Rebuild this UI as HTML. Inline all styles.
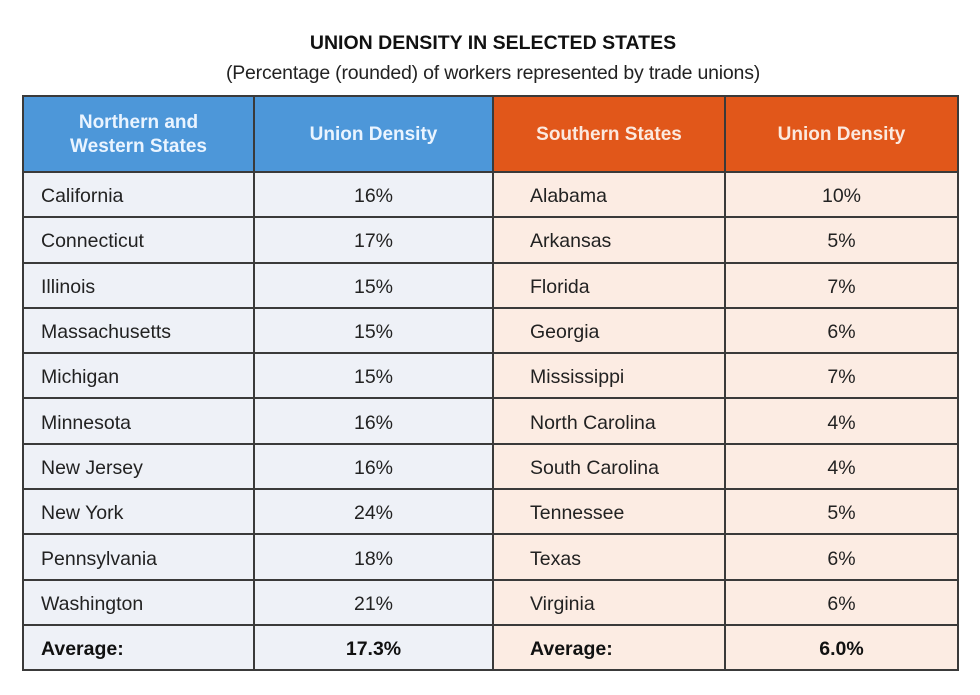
<!DOCTYPE html>
<html><head><meta charset="utf-8"><style>
body{margin:0;width:980px;height:695px;background:#fff;font-family:"Liberation Sans",Arial,sans-serif;position:relative;overflow:hidden}
.t1{position:absolute;top:32px;left:0;width:986px;text-align:center;font-weight:bold;font-size:19.5px;color:#111}
.t2{position:absolute;top:62px;left:0;width:986px;text-align:center;font-size:19.5px;color:#222;letter-spacing:-0.2px}
table{position:absolute;left:22px;top:95px;border-collapse:collapse;table-layout:fixed;width:935px}
td,th{border:2px solid #3a3a3a;font-size:19.5px;color:#222;padding:4px 0 0 0;height:39.3px}
th{height:72px;font-size:19px;color:#eaf4ff;font-weight:bold;line-height:24px;padding:2px 0 0 0}
th.b{background:#4d97d9}th.o{background:#e1571a;color:#fbe9df}
td.l{background:#eef1f7}td.r{background:#fcece3}
td.n{padding-left:17px;text-align:left}td.r.n{padding-left:36px}td.c{text-align:center}
tr.avg td{font-weight:bold;color:#111}
</style></head><body>
<div class="t1">UNION DENSITY IN SELECTED STATES</div>
<div class="t2">(Percentage (rounded) of workers represented by trade unions)</div>
<table>
<colgroup><col style="width:231px"><col style="width:239px"><col style="width:232px"><col style="width:233px"></colgroup>
<tr><th class="b">Northern and<br>Western States</th><th class="b">Union Density</th><th class="o">Southern States</th><th class="o">Union Density</th></tr>
<tr><td class="l n">California</td><td class="l c">16%</td><td class="r n">Alabama</td><td class="r c">10%</td></tr>
<tr><td class="l n">Connecticut</td><td class="l c">17%</td><td class="r n">Arkansas</td><td class="r c">5%</td></tr>
<tr><td class="l n">Illinois</td><td class="l c">15%</td><td class="r n">Florida</td><td class="r c">7%</td></tr>
<tr><td class="l n">Massachusetts</td><td class="l c">15%</td><td class="r n">Georgia</td><td class="r c">6%</td></tr>
<tr><td class="l n">Michigan</td><td class="l c">15%</td><td class="r n">Mississippi</td><td class="r c">7%</td></tr>
<tr><td class="l n">Minnesota</td><td class="l c">16%</td><td class="r n">North Carolina</td><td class="r c">4%</td></tr>
<tr><td class="l n">New Jersey</td><td class="l c">16%</td><td class="r n">South Carolina</td><td class="r c">4%</td></tr>
<tr><td class="l n">New York</td><td class="l c">24%</td><td class="r n">Tennessee</td><td class="r c">5%</td></tr>
<tr><td class="l n">Pennsylvania</td><td class="l c">18%</td><td class="r n">Texas</td><td class="r c">6%</td></tr>
<tr><td class="l n">Washington</td><td class="l c">21%</td><td class="r n">Virginia</td><td class="r c">6%</td></tr>
<tr class="avg"><td class="l n">Average:</td><td class="l c">17.3%</td><td class="r n">Average:</td><td class="r c">6.0%</td></tr>
</table>
</body></html>
